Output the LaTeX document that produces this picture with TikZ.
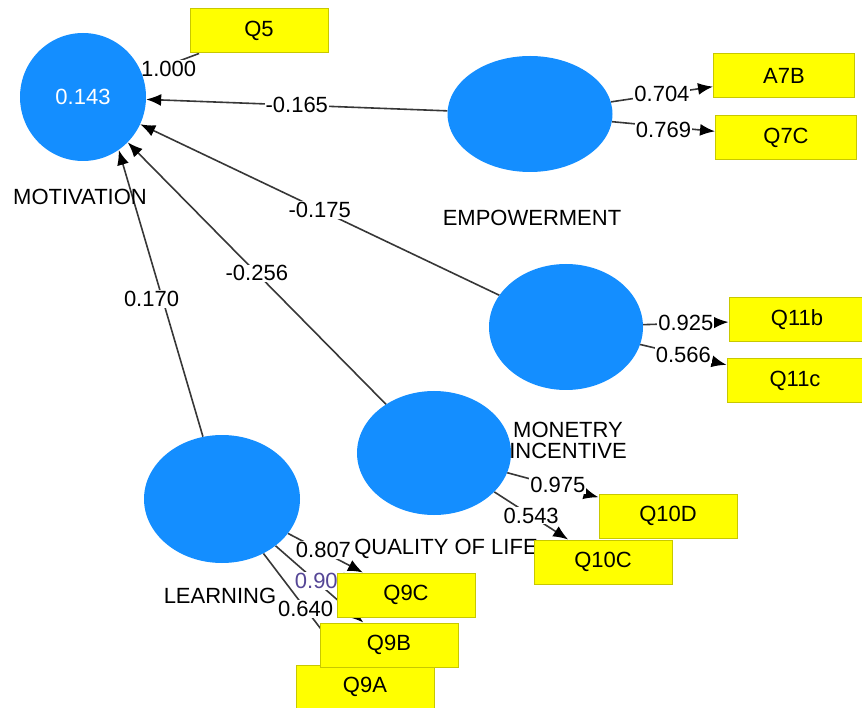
\documentclass[tikz,border=0pt]{standalone}
\usepackage{fontspec}
\setmainfont{Liberation Sans}
\usepackage{xcolor}
\usepackage{tikz}
\usetikzlibrary{calc, shapes.geometric, positioning, arrows.meta}
\definecolor{lvblue}{RGB}{20,142,255}
\definecolor{mvyellow}{RGB}{255,255,0}
\definecolor{mvborder}{RGB}{200,200,0}
\definecolor{lnkgray}{RGB}{55,55,55}
\definecolor{lblpurple}{RGB}{85,70,150}
\pgfdeclarelayer{bg}
\pgfsetlayers{bg,main}

\begin{document}
\begin{tikzpicture}[x=1pt, y=-1pt,
    font=\fontsize{22}{24}\selectfont,
    latent/.style={ellipse, fill=lvblue, inner sep=0pt},
    item/.style={rectangle, fill=mvyellow, draw=mvborder, line width=1pt,
                 minimum width=138pt, minimum height=44pt, inner sep=0pt},
    path/.style={draw=lnkgray, line width=1.6pt, -{Latex[black, length=15pt, width=12pt]}},
    wt/.style={fill=white, inner sep=1pt, text=black}]

    \useasboundingbox (0,0) rectangle (862,708);

    % 1. Bien tiem an
    \node[latent, minimum width=126pt, minimum height=128pt, text=white] (mot) at (83,97) {0.143};
    \node[latent, minimum width=165pt, minimum height=116pt] (emp) at (530,114) {};
    \node[latent, minimum width=154pt, minimum height=126pt] (mon) at (566,327) {};
    \node[latent, minimum width=154pt, minimum height=124pt] (qol) at (434,453) {};
    \node[latent, minimum width=156pt, minimum height=128pt] (learn) at (222,499) {};

    % 2. Ten bien
    \node (motlbl) at (80,197) {MOTIVATION};
    \node (emplbl) at (532,218) {EMPOWERMENT};
    \node[align=center] (monlbl) at (568,440) {MONETRY\\[-3pt]INCENTIVE};
    \node (qollbl) at (446,549) {QUALITY OF LIFE};
    \node (learnlbl) at (220,596) {LEARNING};

    % 3. Bien quan sat
    \node[item] (q5) at (259,31) {Q5};
    \node[item, minimum width=141pt] (a7b) at (784,76) {A7B};
    \node[item, minimum width=141pt] (q7c) at (786,138) {Q7C};
    \node[item, minimum width=136pt] (q11b) at (797,320) {Q11b};
    \node[item, minimum width=136pt] (q11c) at (795,381) {Q11c};
    \node[item] (q10d) at (668,516) {Q10D};
    \node[item] (q10c) at (603,562) {Q10C};
    \node[item] (q9a) at (365,687) {Q9A};
    \node[item] (q9b) at (389,645) {Q9B};
    \node[item] (q9c) at (406,595) {Q9C};

    % 4. Duong dan
    \begin{pgfonlayer}{bg}
    \draw[path] (emp) -- node[wt] {-0.165} (mot);
    \draw[path] (mon) -- node[wt] {-0.175} (mot);
    \draw[path] (qol) -- node[wt] {-0.256} (mot);
    \draw[path] (learn.107) -- node[wt, pos=0.48, xshift=-11pt] {0.170} (mot.-56);
    \draw[draw=lnkgray, line width=1.6pt] (mot) -- node[wt, xshift=-2pt, yshift=-5pt] {1.000} (q5);
    \draw[path] (emp) -- node[wt] {0.704} (a7b);
    \draw[path] (emp) -- node[wt, yshift=-3pt] {0.769} (q7c);
    \draw[path] (mon) -- node[wt] {0.925} (q11b);
    \draw[path] (mon) -- node[wt] {0.566} (q11c);
    \draw[path] (qol) -- node[wt, xshift=5pt] {0.975} (q10d);
    \draw[path] (qol) -- node[wt] {0.543} (q10c);
    \draw[path] (learn) -- node[wt, xshift=-2pt, yshift=3pt] {0.807} (q9c);
    \draw[path] (learn) -- node[wt, text=lblpurple, xshift=3pt, yshift=3pt] {0.901} (q9b);
    \draw[path] (learn) -- node[wt] {0.640} (q9a);
    \end{pgfonlayer}
\end{tikzpicture}
\end{document}
